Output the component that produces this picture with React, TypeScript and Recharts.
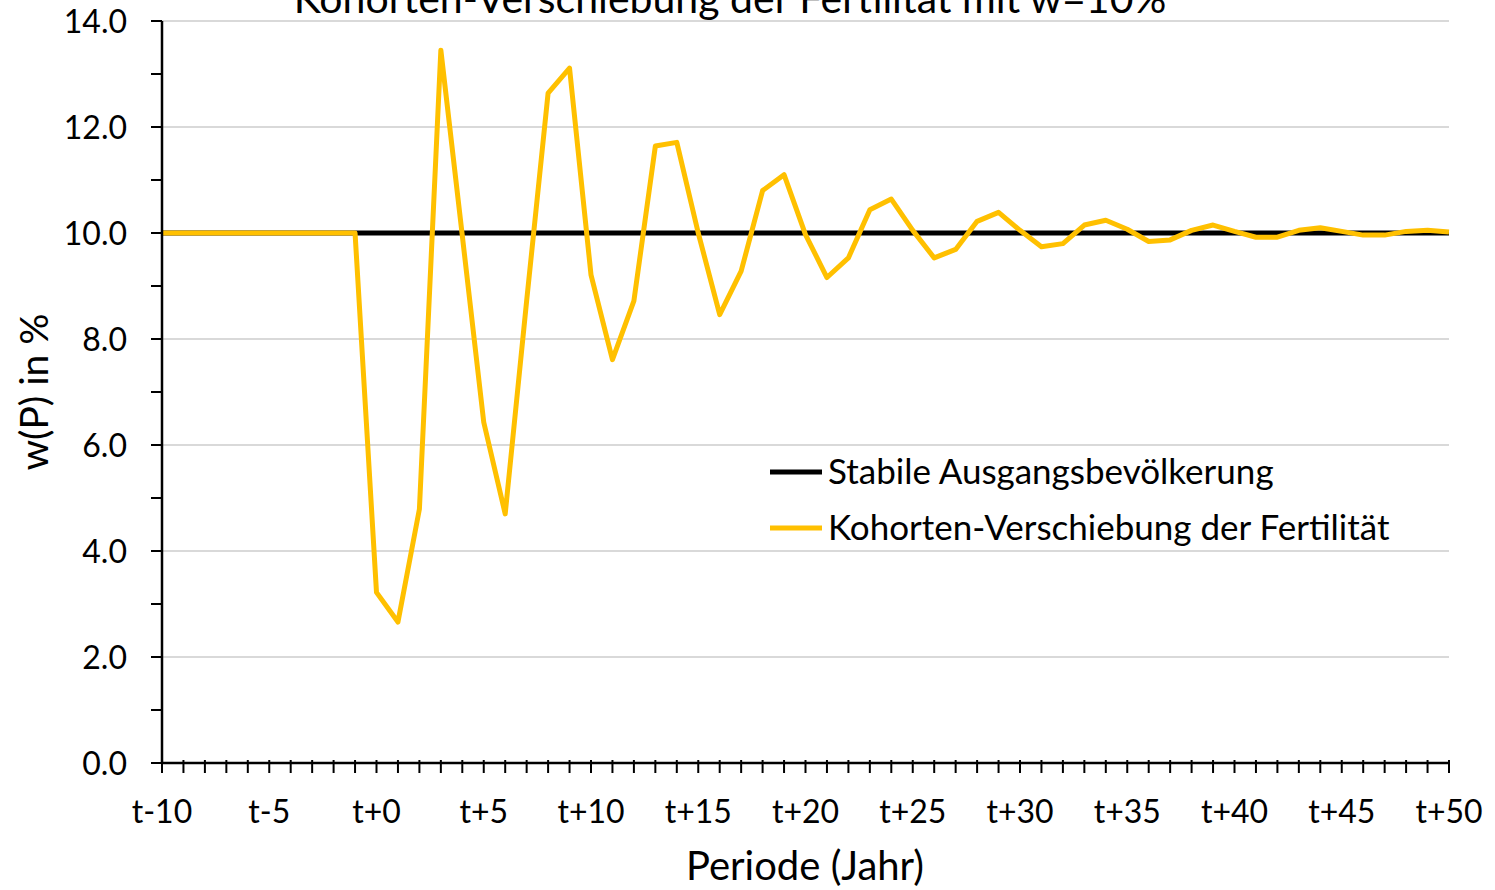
import { LineChart, Line, XAxis, YAxis, CartesianGrid } from "recharts"

const periods = [
  "t-10", "t-9", "t-8", "t-7", "t-6", "t-5", "t-4", "t-3", "t-2", "t-1",
  "t+0", "t+1", "t+2", "t+3", "t+4", "t+5", "t+6", "t+7", "t+8", "t+9",
  "t+10", "t+11", "t+12", "t+13", "t+14", "t+15", "t+16", "t+17", "t+18", "t+19",
  "t+20", "t+21", "t+22", "t+23", "t+24", "t+25", "t+26", "t+27", "t+28", "t+29",
  "t+30", "t+31", "t+32", "t+33", "t+34", "t+35", "t+36", "t+37", "t+38", "t+39",
  "t+40", "t+41", "t+42", "t+43", "t+44", "t+45", "t+46", "t+47", "t+48", "t+49",
  "t+50",
]

const stableValues = [
  10, 10, 10, 10, 10, 10, 10, 10, 10, 10,
  10, 10, 10, 10, 10, 10, 10, 10, 10, 10,
  10, 10, 10, 10, 10, 10, 10, 10, 10, 10,
  10, 10, 10, 10, 10, 10, 10, 10, 10, 10,
  10, 10, 10, 10, 10, 10, 10, 10, 10, 10,
  10, 10, 10, 10, 10, 10, 10, 10, 10, 10,
  10,
]

const cohortValues = [
  10, 10, 10, 10, 10, 10, 10, 10, 10, 10,
  3.22, 2.66, 4.79, 13.45, 9.95, 6.43, 4.7, 8.72, 12.64, 13.11,
  9.21, 7.61, 8.72, 11.64, 11.71, 10.0, 8.46, 9.28, 10.8, 11.1,
  9.97, 9.16, 9.53, 10.44, 10.64, 10.05, 9.53, 9.69, 10.22, 10.39,
  10.05, 9.74, 9.8, 10.15, 10.24, 10.07, 9.84, 9.87, 10.05, 10.15,
  10.03, 9.92, 9.92, 10.05, 10.1, 10.03, 9.96, 9.96, 10.03, 10.05,
  10.02,
]

const yTicks = [0, 1, 2, 3, 4, 5, 6, 7, 8, 9, 10, 11, 12, 13, 14]
const yGridValues = [2, 4, 6, 8, 10, 12, 14]

const seriesNames = ["Stabile Ausgangsbevölkerung", "Kohorten-Verschiebung der Fertilität"]
const seriesColors = ["#000000", "#FFC000"]

const data = periods.map((p, i) => ({
  period: p,
  stable: stableValues[i],
  cohort: cohortValues[i],
}))

const FONT = "Lato, 'Open Sans', sans-serif"

function XTick(props: any) {
  const { x, y, payload, index } = props
  return (
    <g>
      <line x1={x} x2={x} y1={y - 3} y2={y + 10} stroke="#000" strokeWidth={2} />
      {index % 5 === 0 && (
        <text x={x} y={y + 60} textAnchor="middle" fontFamily={FONT} fontSize={32} fill="#000">
          {payload.value}
        </text>
      )}
    </g>
  )
}

function YTick(props: any) {
  const { x, y, payload } = props
  return (
    <g>
      <line x1={x - 11} x2={x} y1={y} y2={y} stroke="#000" strokeWidth={2} />
      {payload.value % 2 === 0 && (
        <text x={x - 35} y={y + 11.5} textAnchor="end" fontFamily={FONT} fontSize={32} fill="#000">
          {payload.value.toFixed(1)}
        </text>
      )}
    </g>
  )
}

// title, y axis title and legend drawn in svg so nothing takes space from the plot
function Overlay() {
  return (
    <g>
      <text x={730} y={13} textAnchor="middle" fontFamily={FONT} fontSize={41} fill="#000">
        Kohorten-Verschiebung der Fertilität mit w=10%
      </text>
      <text
        x={48}
        y={392}
        transform="rotate(-90 48 392)"
        textAnchor="middle"
        fontFamily={FONT}
        fontSize={39}
        fill="#000"
      >
        w(P) in %
      </text>
      {seriesNames.map((name, i) => (
        <g key={name}>
          <line x1={770} x2={822} y1={472 + i * 56} y2={472 + i * 56} stroke={seriesColors[i]} strokeWidth={5} />
          <text x={828} y={484 + i * 56} fontFamily={FONT} fontSize={35} fill="#000">
            {name}
          </text>
        </g>
      ))}
    </g>
  )
}

export default function App() {
  return (
    <div style={{ position: "absolute", left: 0, top: 0, width: 1495, height: 890, background: "#fff" }}>
      <LineChart width={1495} height={890} data={data} margin={{ top: 21, right: 46, left: 0, bottom: 0 }}>
        <CartesianGrid vertical={false} horizontalValues={yGridValues} stroke="#d9d9d9" strokeWidth={2} />
        <XAxis
          dataKey="period"
          interval={0}
          height={127}
          tickSize={0}
          tickMargin={0}
          tick={<XTick />}
          axisLine={{ stroke: "#000", strokeWidth: 2.5 }}
          label={{
            content: () => (
              <text x={805} y={880} textAnchor="middle" fontFamily={FONT} fontSize={40} fill="#000">
                Periode (Jahr)
              </text>
            ),
          }}
        />
        <YAxis
          domain={[0, 14]}
          ticks={yTicks}
          interval={0}
          width={162}
          tickSize={0}
          tickMargin={0}
          tick={<YTick />}
          axisLine={{ stroke: "#000", strokeWidth: 2.5 }}
          label={{ content: () => <Overlay /> }}
        />
        <Line
          type="linear"
          dataKey="stable"
          name={seriesNames[0]}
          stroke={seriesColors[0]}
          strokeWidth={5}
          dot={false}
          activeDot={false}
          isAnimationActive={false}
        />
        <Line
          type="linear"
          dataKey="cohort"
          name={seriesNames[1]}
          stroke={seriesColors[1]}
          strokeWidth={5}
          strokeLinejoin="round"
          dot={false}
          activeDot={false}
          isAnimationActive={false}
        />
      </LineChart>
    </div>
  )
}
